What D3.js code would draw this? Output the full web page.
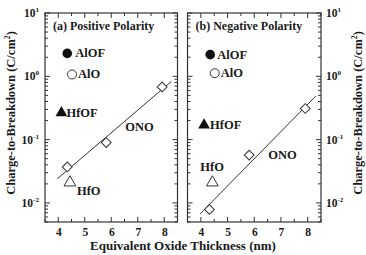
<!DOCTYPE html>
<html><head><meta charset="utf-8">
<script src="https://cdn.jsdelivr.net/npm/d3@7"></script>
<style>body{margin:0;background:#fff}svg{display:block}</style>
</head><body><div id="c"></div>
<script>
const xTicks = [4,5,6,7,8];
const yTickExp = [-2,-1,0,1];
const xDomain = [3.5, 8.5];
const yDomain = [0.005, 10];
const panelTitles = ["(a) Positive Polarity", "(b) Negative Polarity"];
const xTitle = "Equivalent Oxide Thickness (nm)";
const yTitle = "Charge-to-Breakdown (C/cm";

// panel (a)
const aAlOF = [4.34, 2.3];
const aAlO = [4.52, 1.07];
const aHfOF = [4.12, 0.265];
const aHfO = [4.44, 0.021];
const aOnoX = [4.34, 5.81, 7.92];
const aOnoY = [0.037, 0.09, 0.68];
const aFit = [[3.96, 0.024], [8.27, 0.83]];
// panel (b)
const bAlOF = [4.35, 2.2];
const bAlO = [4.52, 1.12];
const bHfOF = [4.12, 0.17];
const bHfO = [4.43, 0.021];
const bOnoX = [4.32, 5.81, 7.91];
const bOnoY = [0.0079, 0.057, 0.31];
const bFit = [[3.97, 0.0067], [8.31, 0.49]];

const FONT = "Liberation Serif";
const W = 366, H = 255;
const svg = d3.select("#c").append("svg").attr("width", W).attr("height", H)
  .attr("font-family", FONT).attr("font-weight", "bold");
const yTop = 13, yBot = 222;
const y = d3.scaleLog().domain(yDomain).range([yBot, yTop]);

function txt(sel) {
  return sel.append("text").attr("font-family", FONT).attr("font-weight", "bold").attr("fill", "#1a1a1a");
}
function supText(sel, base, exp, size) {
  sel.append("tspan").text(base);
  sel.append("tspan").text(exp).attr("font-size", size * 0.62).attr("dy", -size * 0.42);
}

function panel(x0, x1, d, labels) {
  const x = d3.scaleLinear().domain(xDomain).range([x0, x1]);
  const g = svg.append("g");
  d3.range(3.5, 8.51, 0.5).forEach(v => {
    const major = Math.abs(v - Math.round(v)) < 1e-6;
    const L = major ? 5 : 3;
    g.append("line").attr("x1", x(v)).attr("x2", x(v)).attr("y1", yBot).attr("y2", yBot - L).attr("stroke", "#333");
    g.append("line").attr("x1", x(v)).attr("x2", x(v)).attr("y1", yTop).attr("y2", yTop + L).attr("stroke", "#333");
  });
  const yvals = [];
  [-3, -2, -1, 0].forEach(e => { for (let m = 1; m <= 9; m++) yvals.push([m * Math.pow(10, e), m === 1]); });
  yvals.push([10, true]);
  yvals.forEach(([v, major]) => {
    if (v < yDomain[0] || v > yDomain[1]) return;
    const L = major ? 5 : 3;
    g.append("line").attr("x1", x0).attr("x2", x0 + L).attr("y1", y(v)).attr("y2", y(v)).attr("stroke", "#333");
    g.append("line").attr("x1", x1).attr("x2", x1 - L).attr("y1", y(v)).attr("y2", y(v)).attr("stroke", "#333");
  });
  g.append("rect").attr("x", x0).attr("y", yTop).attr("width", x1 - x0).attr("height", yBot - yTop)
    .attr("fill", "none").attr("stroke", "#333").attr("stroke-width", 1.2);
  const xa = d3.axisBottom(x).tickValues(xTicks).tickFormat(d3.format("d")).tickSize(0).tickPadding(6);
  const ag = g.append("g").attr("transform", `translate(0,${yBot})`).call(xa)
    .attr("font-family", FONT).attr("font-size", 11.5).attr("font-weight", "bold");
  ag.select(".domain").remove();
  ag.selectAll("text").attr("fill", "#1a1a1a");

  g.append("line").attr("x1", x(d.fit[0][0])).attr("y1", y(d.fit[0][1]))
    .attr("x2", x(d.fit[1][0])).attr("y2", y(d.fit[1][1])).attr("stroke", "#333").attr("stroke-width", 1);
  g.append("circle").attr("cx", x(d.alof[0])).attr("cy", y(d.alof[1])).attr("r", 4.8).attr("fill", "#111");
  g.append("circle").attr("cx", x(d.alo[0])).attr("cy", y(d.alo[1])).attr("r", 4.5).attr("fill", "#fff").attr("stroke", "#333").attr("stroke-width", 1);
  const tri = d3.symbol().type(d3.symbolTriangle).size(60);
  g.append("path").attr("d", tri()).attr("transform", `translate(${x(d.hfof[0])},${y(d.hfof[1])})`).attr("fill", "#111");
  g.append("path").attr("d", tri()).attr("transform", `translate(${x(d.hfo[0])},${y(d.hfo[1])})`).attr("fill", "#fff").attr("stroke", "#333");
  const sq = d3.symbol().type(d3.symbolSquare).size(48);
  d.onoX.forEach((v, i) => {
    g.append("path").attr("d", sq()).attr("transform", `translate(${x(v)},${y(d.onoY[i])}) rotate(45)`)
      .attr("fill", "#fff").attr("stroke", "#333").attr("stroke-width", 1);
  });
  txt(g).attr("x", x0 + 8).attr("y", 30).attr("font-size", 12).text(labels.title);
  labels.items.forEach(t => {
    txt(g).attr("x", x(t.at[0]) + t.dx).attr("y", y(t.at[1]) + t.dy).attr("font-size", 12.5).text(t.s);
  });
  return x;
}

panel(45, 177.5, {alof: aAlOF, alo: aAlO, hfof: aHfOF, hfo: aHfO, onoX: aOnoX, onoY: aOnoY, fit: aFit},
  {title: panelTitles[0], items: [
    {s: "AlOF", at: aAlOF, dx: 8, dy: 4},
    {s: "AlO", at: aAlO, dx: 6, dy: 4},
    {s: "HfOF", at: aHfOF, dx: 5, dy: 4},
    {s: "ONO", at: [aOnoX[1], aOnoY[1]], dx: 19, dy: -12},
    {s: "HfO", at: aHfO, dx: 7, dy: 12}
  ]});
panel(187.5, 321, {alof: bAlOF, alo: bAlO, hfof: bHfOF, hfo: bHfO, onoX: bOnoX, onoY: bOnoY, fit: bFit},
  {title: panelTitles[1], items: [
    {s: "AlOF", at: bAlOF, dx: 7, dy: 4},
    {s: "AlO", at: bAlO, dx: 6, dy: 4},
    {s: "HfOF", at: bHfOF, dx: 6, dy: 4},
    {s: "ONO", at: [bOnoX[1], bOnoY[1]], dx: 19, dy: 4},
    {s: "HfO", at: bHfO, dx: -12, dy: -12}
  ]});

yTickExp.forEach(e => {
  const v = Math.pow(10, e);
  const tl = txt(svg).attr("x", 39).attr("y", y(v) + 4).attr("text-anchor", "end").attr("font-size", 11.5);
  supText(tl, "10", String(e), 11.5);
  const tr = txt(svg).attr("x", 326).attr("y", y(v) + 4).attr("font-size", 11.5);
  supText(tr, "10", String(e), 11.5);
});
const ly = txt(svg).attr("transform", "translate(15,113) rotate(-90)").attr("text-anchor", "middle").attr("font-size", 12.5);
supText(ly, yTitle, "2", 12.5); ly.append("tspan").attr("dy", 12.5 * 0.42).text(")");
const ry = txt(svg).attr("transform", "translate(362,113) rotate(-90)").attr("text-anchor", "middle").attr("font-size", 12.5);
supText(ry, yTitle, "2", 12.5); ry.append("tspan").attr("dy", 12.5 * 0.42).text(")");
txt(svg).attr("x", 183).attr("y", 250).attr("text-anchor", "middle").attr("font-size", 13).text(xTitle);
</script></body></html>
